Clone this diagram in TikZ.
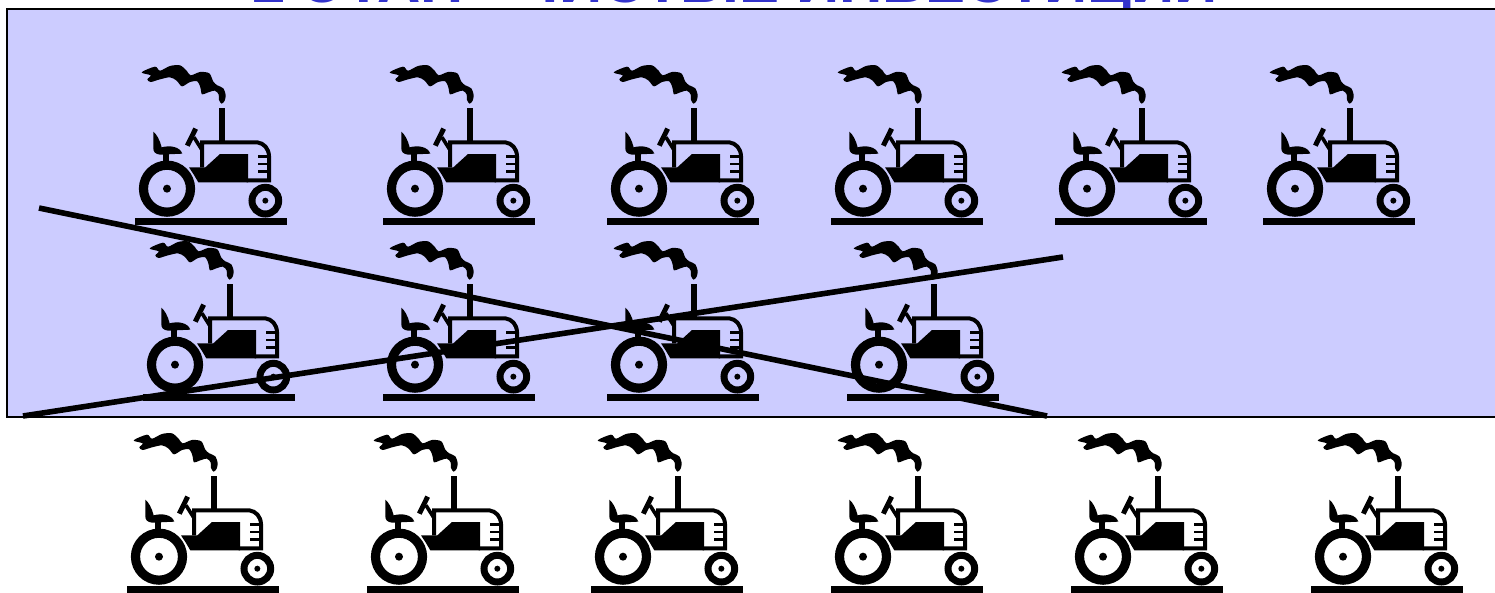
\documentclass[tikz,border=0pt]{standalone}
\usepackage{fontspec}
\setmainfont{Liberation Sans}
\definecolor{panelblue}{HTML}{CCCCFF}
\definecolor{titleblue}{HTML}{3333CC}
\tikzset{
  crossline/.style={line width=5.6pt,draw=black},
  panelbox/.style={draw=black,line width=2pt,fill=panelblue,outer sep=0pt},
  pics/tractor/.style={code={
    \begin{scope}[scale=1/3]
    % ground
    \fill (45,503) rectangle (500,525);
    % wheels
    \draw[line width=9.2pt] (141,416) circle (70.5);
    \fill (141,416) circle (12);
    \draw[line width=7pt] (436,452) circle (40);
    \fill (436,452) circle (9);
    % chimney
    \fill (298,175) rectangle (315,275);
    % smoke
    \fill plot[smooth cycle,tension=0.5] coordinates {(65,67) (105,50) (120,62) (150,48) (180,46) (200,62) (212,76) (240,66) (268,70) (280,95) (292,106) (310,115) (317,135) (314,152) (305,161) (297,150) (296,133) (284,122) (262,128) (246,133) (241,112) (232,94) (210,96) (186,109) (170,92) (150,82) (120,88) (92,96) (82,88) (92,76)};
    % hood
    \draw[line width=4pt] (246,352) -- (246,277) -- (412,277) .. controls (432,280) and (446,295) .. (447,318) -- (447,391) -- (380,391);
    % body
    \fill (207,352) -- (256,352) -- (300,312) -- (384,312) -- (384,397) -- (235,397) -- (222,375) -- cycle;
    % grille
    \fill (415,315) rectangle (445,324);
    \fill (415,338) rectangle (445,346);
    \fill (415,360) rectangle (445,368);
    % steering
    \draw[line width=5pt] (202,287) -- (227,236);
    \draw[line width=3.6pt] (222,262) -- (246,300);
    % seat
    \fill (100,245) .. controls (108,250) and (120,270) .. (125,292) .. controls (150,285) and (180,290) .. (187,311) -- (120,314) .. controls (105,312) and (100,305) .. (100,295) -- cycle;
    \fill (130,310) rectangle (146,340);
    \end{scope}
  }}
}
\begin{document}
\begin{tikzpicture}[x=1pt,y=-1pt]
\useasboundingbox (0,0) rectangle (1495,592);
\begin{scope}
\clip (0,0) rectangle (1495,592);
\node[anchor=base,font=\bfseries\fontsize{60}{60}\selectfont,text=titleblue,inner sep=0pt] (title) at (735,2) {2 ЭТАП - ЧИСТЫЕ ИНВЕСТИЦИИ};
\node[panelbox,minimum width=1500pt,minimum height=408pt,anchor=north west,inner sep=0pt] (panel) at (7,9) {};
\foreach \dx in {0,248,472,696,920,1128} \pic at (120+\dx,50) {tractor};
\foreach \dx in {8,248,472,712} \pic at (120+\dx,226) {tractor};
\foreach \dx in {-8,232,456,696,936,1176} \pic at (120+\dx,418) {tractor};
\coordinate (a1) at (39,208);
\coordinate (a2) at (1047,416);
\coordinate (b1) at (23,416);
\coordinate (b2) at (1063,257);
\draw[crossline] (a1) -- (a2);
\draw[crossline] (b1) -- (b2);
\end{scope}
\end{tikzpicture}
\end{document}
